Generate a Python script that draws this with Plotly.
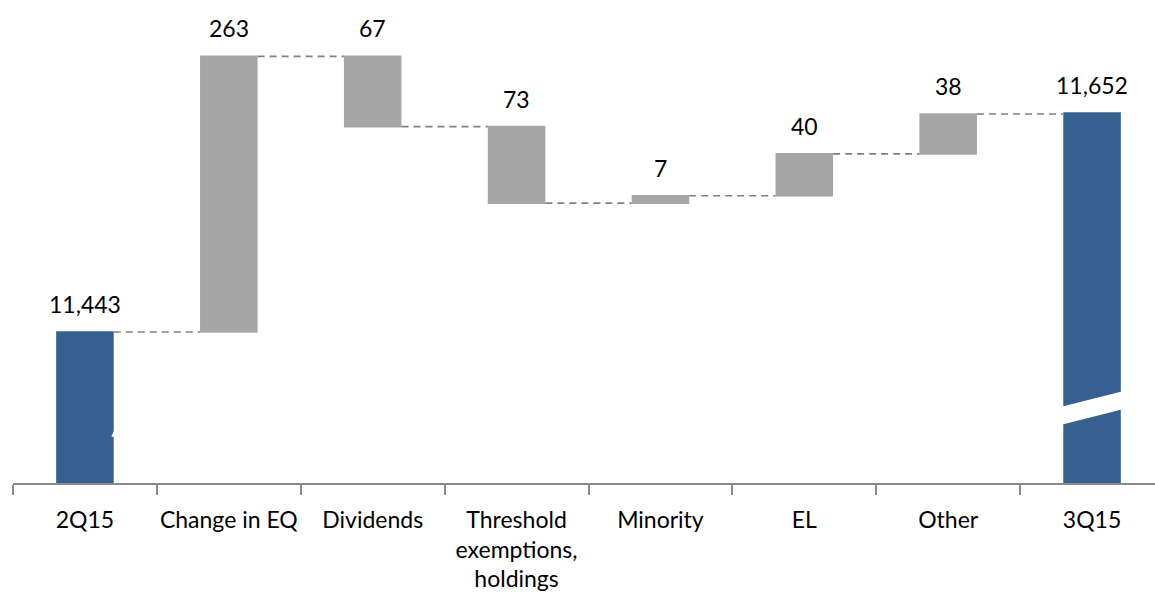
import plotly.graph_objects as go

# Equity bridge, 2Q15 -> 3Q15
categories = ["2Q15", "Change in EQ", "Dividends", "Threshold<br>exemptions,<br>holdings",
              "Minority", "EL", "Other", "3Q15"]
measures = ["absolute", "relative", "relative", "relative", "relative", "relative", "relative", "absolute"]
values = [11443, 263, -67, -73, 7, 40, 38, 11652]

BLUE = "#36608F"
GREY_BAR = "#A6A6A6"
GREY_LINE = "#8A8A8A"
FONT = "Lato"

# y-axis is broken: only the top slice of the scale is shown
Y_MIN, Y_MAX = 11298.9, 11759.8

# bar tops for the value labels
tops = []
level = 0
for m, v in zip(measures, values):
    if m == "absolute":
        tops.append(v)
        level = v
    else:
        tops.append(max(level, level + v))
        level += v

fig = go.Figure(go.Waterfall(
    x=categories,
    y=values,
    measure=measures,
    width=0.4,
    increasing=dict(marker=dict(color=GREY_BAR)),
    decreasing=dict(marker=dict(color=GREY_BAR)),
    totals=dict(marker=dict(color=BLUE)),
    connector=dict(mode="between", line=dict(color="#808080", width=1.6, dash="7px,5px")),
    hoverinfo="skip",
    showlegend=False,
))

annotations = []
for i, (v, t) in enumerate(zip(values, tops)):
    annotations.append(dict(
        x=i, y=t, xref="x", yref="y", text=f"{abs(v):,}", showarrow=False,
        yanchor="bottom", yshift=12, font=dict(family=FONT, size=23, color="#000000"),
    ))

# axis-break marks (white slashes across the total bars)
shapes = [
    dict(type="path", xref="x", yref="y", layer="above",
         path="M 6.78 11371.4 L 7.22 11386.7 L 7.22 11369.5 L 6.78 11354.3 Z",
         fillcolor="white", line=dict(width=0)),
    dict(type="line", xref="x", yref="y", layer="above",
         x0=0.19, y0=11343.0, x1=0.215, y1=11350.0,
         line=dict(color="white", width=2)),
]

fig.update_layout(
    width=1155, height=601,
    margin=dict(l=13, r=0, t=0, b=118),
    paper_bgcolor="white", plot_bgcolor="white",
    font=dict(family=FONT, size=23, color="#000000"),
    annotations=annotations,
    shapes=shapes,
    xaxis=dict(
        type="category",
        range=[-0.5, 7.4375],
        tickson="boundaries",
        showline=True, linecolor=GREY_LINE, linewidth=2,
        ticks="outside", ticklen=10, tickwidth=2, tickcolor=GREY_LINE,
        showgrid=False, zeroline=False, ticklabelstandoff=15,
        tickangle=0, automargin=False,
        tickfont=dict(family=FONT, size=23, color="#000000"),
    ),
    yaxis=dict(range=[Y_MIN, Y_MAX], visible=False, showgrid=False, zeroline=False,
               automargin=False),
)

fig.write_html("out.html")
